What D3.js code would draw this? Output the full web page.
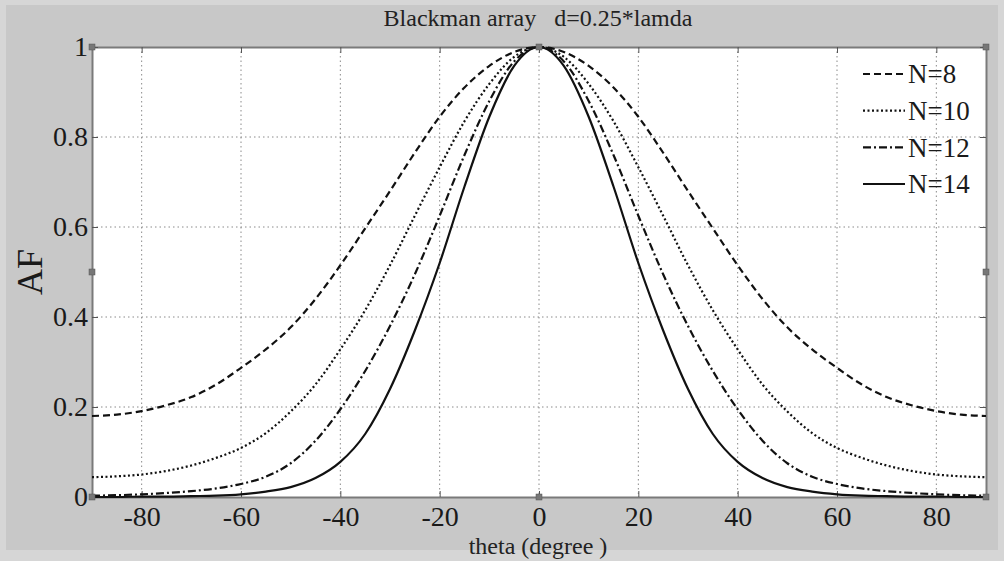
<!DOCTYPE html>
<html>
<head>
<meta charset="utf-8">
<script src="https://cdn.jsdelivr.net/npm/d3@7"></script>
<style>
  body { margin: 0; background: #d6d6d6; }
  svg { display: block; font-family: "Liberation Serif", "DejaVu Serif", serif; }
</style>
</head>
<body>
<svg id="chart" width="1004" height="561"></svg>
<script>
// angle samples (degrees)
const theta = [-90, -85, -80, -75, -70, -65, -60, -55, -50, -45, -40, -35, -30, -25, -20, -15, -10, -5,
  0, 5, 10, 15, 20, 25, 30, 35, 40, 45, 50, 55, 60, 65, 70, 75, 80, 85, 90];

// array factor
const af8 = [0.180, 0.183, 0.191, 0.204, 0.222, 0.250, 0.287, 0.328, 0.377, 0.440, 0.515, 0.597, 0.680, 0.765, 0.845, 0.910, 0.958, 0.989,
  1, 0.989, 0.958, 0.910, 0.845, 0.765, 0.680, 0.597, 0.515, 0.440, 0.377, 0.328, 0.287, 0.250, 0.222, 0.204, 0.191, 0.183, 0.180];
const af10 = [0.044, 0.046, 0.050, 0.058, 0.070, 0.087, 0.109, 0.142, 0.190, 0.250, 0.328, 0.415, 0.515, 0.625, 0.733, 0.835, 0.918, 0.978,
  1, 0.978, 0.918, 0.835, 0.733, 0.625, 0.515, 0.415, 0.328, 0.250, 0.190, 0.142, 0.109, 0.087, 0.070, 0.058, 0.050, 0.046, 0.044];
const af12 = [0.003, 0.004, 0.006, 0.009, 0.013, 0.019, 0.029, 0.045, 0.075, 0.125, 0.195, 0.280, 0.380, 0.495, 0.625, 0.760, 0.880, 0.968,
  1, 0.968, 0.880, 0.760, 0.625, 0.495, 0.380, 0.280, 0.195, 0.125, 0.075, 0.045, 0.029, 0.019, 0.013, 0.009, 0.006, 0.004, 0.003];
const af14 = [0, 0, 0.001, 0.001, 0.002, 0.003, 0.006, 0.012, 0.022, 0.042, 0.078, 0.140, 0.240, 0.370, 0.520, 0.690, 0.845, 0.958,
  1, 0.958, 0.845, 0.690, 0.520, 0.370, 0.240, 0.140, 0.078, 0.042, 0.022, 0.012, 0.006, 0.003, 0.002, 0.001, 0.001, 0, 0];

const seriesNames = ["N=8", "N=10", "N=12", "N=14"];
const xTicks = [-80, -60, -40, -20, 0, 20, 40, 60, 80];
const yTicks = [0, 0.2, 0.4, 0.6, 0.8, 1];
const yTickLabels = ["0", "0.2", "0.4", "0.6", "0.8", "1"];

const width = 1004, height = 561;
const plot = { left: 92, right: 986, top: 47, bottom: 497 };

const svg = d3.select("#chart");

// figure background (lighter outer frame, grey inner)
svg.append("rect").attr("width", width).attr("height", height).attr("fill", "#d6d6d6");
svg.append("rect").attr("x", 6).attr("y", 5).attr("width", 992).attr("height", 545).attr("fill", "#c8c8c8");

const x = d3.scaleLinear().domain([-90, 90]).range([plot.left, plot.right]);
const y = d3.scaleLinear().domain([0, 1]).range([plot.bottom, plot.top]);

svg.append("rect")
  .attr("x", plot.left).attr("y", plot.top)
  .attr("width", plot.right - plot.left).attr("height", plot.bottom - plot.top)
  .attr("fill", "#ffffff");

// dotted grid
const grid = svg.append("g").attr("stroke", "#8a8a8a").attr("stroke-width", 1).attr("stroke-dasharray", "1.5,3");
grid.selectAll(".gx").data(xTicks).enter().append("line")
  .attr("x1", d => x(d)).attr("x2", d => x(d)).attr("y1", plot.top).attr("y2", plot.bottom);
grid.selectAll(".gy").data(yTicks.filter(d => d > 0 && d < 1)).enter().append("line")
  .attr("x1", plot.left).attr("x2", plot.right).attr("y1", d => y(d)).attr("y2", d => y(d));

// axes (ticks inside, like matlab)
const xAxis = svg.append("g").attr("transform", "translate(0," + plot.bottom + ")")
  .call(d3.axisBottom(x).tickValues(xTicks).tickSizeInner(-6).tickSizeOuter(0).tickFormat(d => String(d)));
const xAxisTop = svg.append("g").attr("transform", "translate(0," + plot.top + ")")
  .call(d3.axisTop(x).tickValues(xTicks).tickSizeInner(-6).tickSizeOuter(0).tickFormat(""));
const yAxis = svg.append("g").attr("transform", "translate(" + plot.left + ",0)")
  .call(d3.axisLeft(y).tickValues(yTicks).tickSizeInner(-6).tickSizeOuter(0).tickPadding(4)
    .tickFormat((d, i) => yTickLabels[i]));
const yAxisRight = svg.append("g").attr("transform", "translate(" + plot.right + ",0)")
  .call(d3.axisRight(y).tickValues(yTicks).tickSizeInner(-6).tickSizeOuter(0).tickFormat(""));

[xAxis, xAxisTop, yAxis, yAxisRight].forEach(g => {
  g.select(".domain").attr("stroke", "#7a7a7a").attr("stroke-width", 2);
  g.selectAll(".tick line").attr("stroke", "#555");
  g.selectAll(".tick text")
    .attr("fill", "#1a1a1a")
    .style("font-family", "'Liberation Serif', serif")
    .style("font-size", "28px");
});
xAxis.selectAll(".tick text").attr("y", 29).attr("dy", 0);

// curves
const rows = [af8, af10, af12, af14].map((vals, i) => ({
  name: seriesNames[i],
  points: theta.map((t, j) => ({ t: t, v: vals[j] }))
}));
const dashes = ["7,4", "2,2.5", "8,3,2,3", null];

const line = d3.line()
  .x(d => x(d.t))
  .y(d => y(d.v))
  .curve(d3.curveMonotoneX);

svg.append("g").selectAll("path")
  .data(rows)
  .enter()
  .append("path")
  .attr("d", d => line(d.points))
  .attr("fill", "none")
  .attr("stroke", "#111")
  .attr("stroke-width", 2.2)
  .attr("stroke-dasharray", (d, i) => dashes[i]);

// selection handles on the axes box
const handles = [[plot.left, plot.top], [(plot.left + plot.right) / 2, plot.top], [plot.right, plot.top],
  [plot.left, (plot.top + plot.bottom) / 2], [plot.right, (plot.top + plot.bottom) / 2],
  [plot.left, plot.bottom], [(plot.left + plot.right) / 2, plot.bottom], [plot.right, plot.bottom]];
svg.append("g").selectAll("rect")
  .data(handles)
  .enter()
  .append("rect")
  .attr("x", d => d[0] - 3).attr("y", d => d[1] - 3)
  .attr("width", 6).attr("height", 6)
  .attr("fill", "#777").attr("stroke", "#555").attr("stroke-width", 0.5);

// legend
const legend = svg.append("g");
const legY = d3.scalePoint().domain(seriesNames).range([74, 184]);
legend.selectAll("line")
  .data(rows)
  .enter()
  .append("line")
  .attr("x1", 863).attr("x2", 905)
  .attr("y1", d => legY(d.name)).attr("y2", d => legY(d.name))
  .attr("stroke", "#111").attr("stroke-width", 2.2)
  .attr("stroke-dasharray", (d, i) => dashes[i]);
legend.selectAll("text")
  .data(rows)
  .enter()
  .append("text")
  .attr("x", 908)
  .attr("y", d => legY(d.name))
  .attr("dy", "0.35em")
  .style("font-size", "27px")
  .attr("fill", "#1a1a1a")
  .text(d => d.name);

// title and labels
svg.append("text")
  .attr("x", 538).attr("y", 26)
  .attr("text-anchor", "middle")
  .style("font-size", "24px")
  .attr("fill", "#222")
  .attr("xml:space", "preserve")
  .text("Blackman array   d=0.25*lamda");

svg.append("text")
  .attr("x", 538).attr("y", 554)
  .attr("text-anchor", "middle")
  .style("font-size", "24px")
  .attr("fill", "#222")
  .text("theta (degree )");

svg.append("text")
  .attr("transform", "translate(42," + ((plot.top + plot.bottom) / 2) + ") rotate(-90)")
  .attr("text-anchor", "middle")
  .style("font-size", "36px")
  .attr("fill", "#1a1a1a")
  .text("AF");
</script>
</body>
</html>
